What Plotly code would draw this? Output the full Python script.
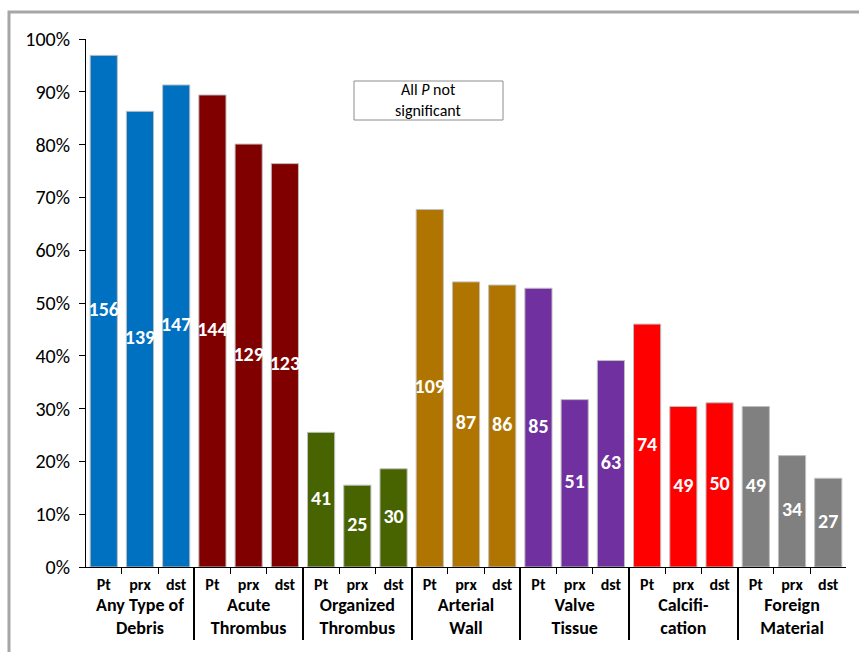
import plotly.graph_objects as go

groups = ["Any Type of<br>Debris", "Acute<br>Thrombus", "Organized<br>Thrombus",
          "Arterial<br>Wall", "Valve<br>Tissue", "Calcifi-<br>cation", "Foreign<br>Material"]
subs = ["Pt", "prx", "dst"]
colors = ["#0070C0", "#800000", "#476400", "#B07500", "#7030A0", "#FF0000", "#808080"]

# percentages (y) and counts (labels) per group: Pt, prx, dst
pct = [
    [96.9, 86.3, 91.3],
    [89.4, 80.1, 76.4],
    [25.5, 15.5, 18.6],
    [67.7, 54.0, 53.4],
    [52.8, 31.7, 39.1],
    [46.0, 30.4, 31.1],
    [30.4, 21.1, 16.8],
]
counts = [
    [156, 139, 147],
    [144, 129, 123],
    [41, 25, 30],
    [109, 87, 86],
    [85, 51, 63],
    [74, 49, 50],
    [49, 34, 27],
]

xo, xi, yv, cv, col = [], [], [], [], []
for g, c, p, n in zip(groups, colors, pct, counts):
    for s, pv, nv in zip(subs, p, n):
        xo.append(g)
        xi.append('<span style="font-size:16px">' + s + '</span>')
        yv.append(pv / 100); cv.append(str(nv)); col.append(c)

FONT = "Carlito, Lato, Calibri, sans-serif"

fig = go.Figure()
fig.add_trace(go.Bar(
    x=[xo, xi], y=yv,
    marker=dict(color=col, line=dict(color="#BFBFBF", width=1)),
    showlegend=False, hoverinfo="skip",
))
fig.add_trace(go.Scatter(
    x=[xo, xi], y=[v / 2 for v in yv], mode="text", text=cv,
    textfont=dict(family=FONT, size=20, color="white", weight="bold"),
    showlegend=False, hoverinfo="skip",
))

# plot area in pixels: x 86..846, y 39..567
px = lambda x: (x - 86) / 760
py = lambda y: (567 - y) / 528

fig.update_layout(
    width=859, height=652,
    margin=dict(l=86, r=13, t=39, b=85),
    paper_bgcolor="white", plot_bgcolor="white",
    bargap=0.25,
    font=dict(family=FONT, color="black"),
    xaxis=dict(
        type="multicategory", range=[-0.49, len(xi) - 0.51],
        showline=True, linecolor="black", linewidth=1,
        ticks="outside", ticklen=6, tickcolor="black", tickson="boundaries",
        tickfont=dict(family=FONT, size=18, weight="bold"),
        showdividers=True, dividercolor="black", dividerwidth=2,
        showgrid=False, zeroline=False,
    ),
    yaxis=dict(
        range=[0, 1], tickvals=[i / 10 for i in range(11)], tickformat=".0%",
        showline=True, linecolor="black", linewidth=1,
        ticks="outside", ticklen=6, tickcolor="black", ticklabelstandoff=5,
        tickfont=dict(family=FONT, size=20), showgrid=False, zeroline=False,
    ),
    shapes=[
        dict(type="rect", xref="paper", yref="paper",
             x0=px(9), x1=1.3, y0=-0.5, y1=py(12),
             line=dict(color="#A6A6A6", width=3), fillcolor="rgba(0,0,0,0)", layer="below"),
        dict(type="rect", xref="paper", yref="paper",
             x0=px(354), x1=px(503), y0=py(120), y1=py(81),
             line=dict(color="#8C8C8C", width=1), fillcolor="white", layer="above"),
    ],
    annotations=[
        dict(xref="paper", yref="paper", x=px(428), y=py(90),
             xanchor="center", yanchor="middle", showarrow=False,
             text="All <i>P</i> not", font=dict(family=FONT, size=16, color="black")),
        dict(xref="paper", yref="paper", x=px(428), y=py(110),
             xanchor="center", yanchor="middle", showarrow=False,
             text="significant", font=dict(family=FONT, size=16, color="black")),
    ],
)

fig.write_html("out.html")
